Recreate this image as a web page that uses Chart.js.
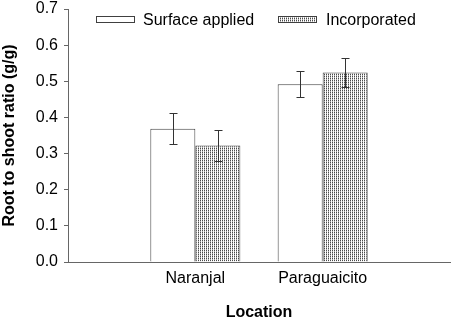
<!DOCTYPE html>
<html><head><meta charset="utf-8">
<script src="https://cdn.jsdelivr.net/npm/chart.js@4"></script>
<style>html,body{margin:0;padding:0;background:#fff}#wrap{width:454px;height:322px}</style>
</head><body><div id="wrap"><canvas id="c" width="454" height="322"></canvas></div>
<script>
const categories = ['', 'Naranjal', 'Paraguaicito', ''];
const seriesNames = ['Surface applied', 'Incorporated'];
const surfaceValues = [null, 0.369, 0.492, null];
const surfaceErrors = [null, 0.043, 0.036, null];
const incorporatedValues = [null, 0.322, 0.524, null];
const incorporatedErrors = [null, 0.043, 0.040, null];
const yTicks = [0.0, 0.1, 0.2, 0.3, 0.4, 0.5, 0.6, 0.7];

function makePattern() {
  const t = document.createElement('canvas');
  t.width = 2; t.height = 2;
  const g = t.getContext('2d');
  g.fillStyle = '#ffffff'; g.fillRect(0, 0, 2, 2);
  g.fillStyle = '#4a4a4a'; g.fillRect(0, 0, 1, 1);
  g.fillStyle = '#b0b0b0'; g.fillRect(0, 1, 1, 1);
  return document.getElementById('c').getContext('2d').createPattern(t, 'repeat');
}
const pattern = makePattern();
const FONT = 'Liberation Sans, Arial, sans-serif';

const errorBars = {
  id: 'errorBars',
  afterDatasetsDraw(chart) {
    const ctx = chart.ctx;
    const y = chart.scales.y;
    ctx.save();
    ctx.strokeStyle = '#333';
    ctx.lineWidth = 1;
    chart.data.datasets.forEach((ds, di) => {
      const meta = chart.getDatasetMeta(di);
      meta.data.forEach((bar, i) => {
        const v = ds.data[i], e = ds.errors[i];
        if (v == null || e == null) return;
        const x = Math.round(bar.x) + 0.5;
        const yt = Math.round(y.getPixelForValue(v + e)) + 0.5;
        const yb = Math.round(y.getPixelForValue(v - e)) + 0.5;
        ctx.beginPath();
        ctx.moveTo(x, yt); ctx.lineTo(x, yb);
        ctx.moveTo(x - 4, yt); ctx.lineTo(x + 4, yt);
        ctx.moveTo(x - 4, yb); ctx.lineTo(x + 4, yb);
        ctx.stroke();
      });
    });
    ctx.restore();
  }
};

const customLegend = {
  id: 'customLegend',
  afterDraw(chart) {
    const ctx = chart.ctx;
    const items = [{x: 96, tx: 143}, {x: 278, tx: 326}];
    ctx.save();
    ctx.font = '16px ' + FONT;
    ctx.textBaseline = 'middle';
    chart.data.datasets.forEach((ds, i) => {
      const it = items[i];
      ctx.fillStyle = ds.backgroundColor;
      ctx.fillRect(it.x, 16, 39, 7);
      ctx.strokeStyle = '#404040';
      ctx.lineWidth = 1;
      ctx.strokeRect(it.x + 0.5, 16.5, 38, 6);
      ctx.fillStyle = '#000';
      ctx.fillText(ds.label, it.tx, 20.5);
    });
    ctx.restore();
  }
};

new Chart(document.getElementById('c'), {
  type: 'bar',
  data: {
    labels: categories,
    datasets: [
      {label: seriesNames[0], data: surfaceValues, errors: surfaceErrors,
       backgroundColor: '#ffffff', borderColor: '#404040', borderWidth: 1},
      {label: seriesNames[1], data: incorporatedValues, errors: incorporatedErrors,
       backgroundColor: pattern, borderColor: '#404040', borderWidth: 1}
    ]
  },
  options: {
    responsive: false,
    animation: false,
    devicePixelRatio: 1,
    categoryPercentage: 0.707,
    barPercentage: 1,
    layout: {padding: {left: 0, right: 4, top: 9, bottom: 0}},
    plugins: {legend: {display: false}, tooltip: {enabled: false}},
    scales: {
      x: {
        offset: false,
        grid: {display: true, drawOnChartArea: false, drawTicks: false, offset: false},
        border: {display: true, color: '#666', width: 1},
        ticks: {autoSkip: false, maxRotation: 0, padding: 7, color: '#000', font: {family: FONT, size: 16}},
        title: {display: true, text: 'Location', color: '#000', padding: {top: 0, bottom: 0}, font: {family: FONT, size: 16, weight: 'bold'}},
        afterFit(s) { s.height = 60; s.paddingLeft = 0; s.paddingRight = 0; }
      },
      y: {
        min: 0, max: 0.7,
        afterBuildTicks(s) { s.ticks = yTicks.map(v => ({value: v})); },
        grid: {drawOnChartArea: false, drawTicks: true, tickLength: 4, color: '#666'},
        border: {display: true, color: '#666', width: 1},
        ticks: {padding: 6, color: '#000', font: {family: FONT, size: 16}, callback: v => Number(v).toFixed(1)},
        title: {display: true, text: 'Root to shoot ratio (g/g)', color: '#000', padding: {top: 0, bottom: 0}, font: {family: FONT, size: 16, weight: 'bold'}},
        afterFit(s) { s.width = 68; s.paddingTop = 0; s.paddingBottom = 0; }
      }
    }
  },
  plugins: [errorBars, customLegend]
});
</script></body></html>
